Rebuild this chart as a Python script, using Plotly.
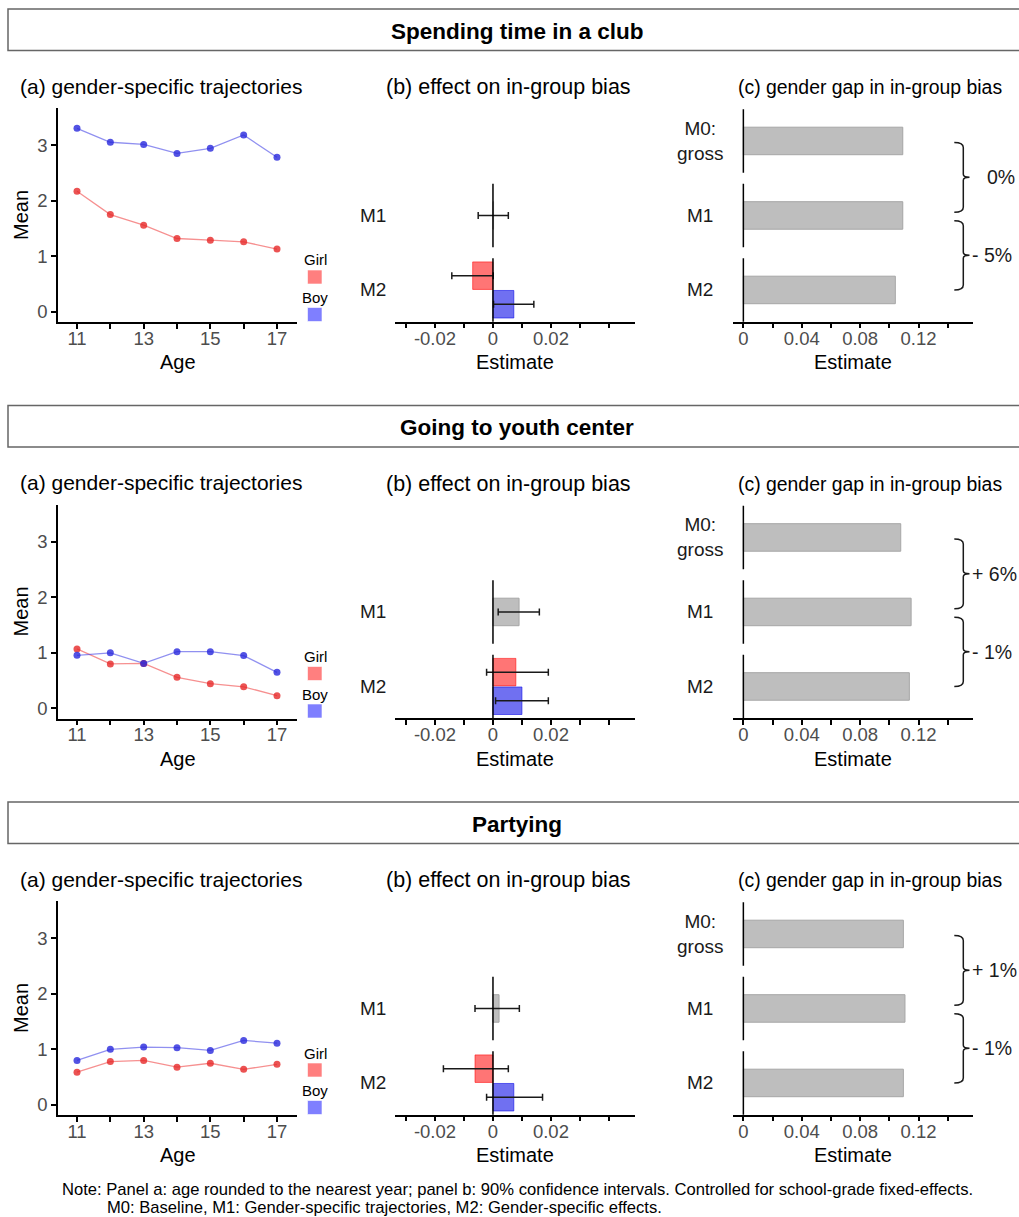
import plotly.graph_objects as go

W, H = 1019, 1217

# ---------------- data ----------------
sections = ["Spending time in a club", "Going to youth center", "Partying"]
ages = [11, 12, 13, 14, 15, 16, 17]
age_ticktext = ["11", "", "13", "", "15", "", "17"]
genders = ["Girl", "Boy"]

club_girl = [2.17, 1.75, 1.56, 1.32, 1.29, 1.26, 1.13]
club_boy = [3.30, 3.05, 3.01, 2.85, 2.94, 3.18, 2.78]
youth_girl = [1.07, 0.80, 0.81, 0.56, 0.445, 0.39, 0.23]
youth_boy = [0.955, 1.00, 0.81, 1.02, 1.02, 0.95, 0.65]
party_girl = [0.59, 0.78, 0.80, 0.68, 0.75, 0.64, 0.73]
party_boy = [0.80, 1.00, 1.04, 1.03, 0.98, 1.16, 1.11]
traj_girl = [club_girl, youth_girl, party_girl]
traj_boy = [club_boy, youth_boy, party_boy]
mean_ticks = [0, 1, 2, 3]

# panel b: effect on in-group bias (estimate, 90% CI)
m1_est = [0.0002, 0.0090, 0.0021]
m1_lo = [-0.0051, 0.0018, -0.0062]
m1_hi = [0.0053, 0.0160, 0.0091]
m2_girl_est = [-0.0070, 0.0079, -0.0062]
m2_girl_lo = [-0.0142, -0.0022, -0.0171]
m2_girl_hi = [0.0001, 0.0191, 0.0053]
m2_boy_est = [0.0072, 0.0100, 0.0072]
m2_boy_lo = [0.0002, 0.0009, -0.0022]
m2_boy_hi = [0.0141, 0.0191, 0.0171]
b_ticks = [-0.03, -0.02, -0.01, 0, 0.01, 0.02, 0.03, 0.04]
b_ticktext = ["", "-0.02", "", "0", "", "0.02", "", ""]

# panel c: gender gap in in-group bias
gap_m0 = [0.1092, 0.1078, 0.1096]
gap_m1 = [0.1092, 0.1149, 0.1107]
gap_m2 = [0.1041, 0.1137, 0.1096]
change_m0_m1 = ["0%", "+ 6%", "+ 1%"]
change_m1_m2 = ["- 5%", "- 1%", "- 1%"]
c_ticks = [0, 0.02, 0.04, 0.06, 0.08, 0.10, 0.12, 0.14]
c_ticktext = ["0", "", "0.04", "", "0.08", "", "0.12", ""]

b_facets = ["M1", "M2"]
c_facets = ["M0:<br>gross", "M1", "M2"]

note_lines = [
    "Note: Panel a: age rounded to the nearest year; panel b: 90% confidence intervals. Controlled for school-grade fixed-effects.",
    "M0: Baseline, M1: Gender-specific trajectories, M2: Gender-specific effects.",
]

# ---------------- style ----------------
FONT = "Liberation Sans, Arial, sans-serif"
TICKC = "#4d4d4d"
RED_LINE = "rgba(240,70,70,0.6)"
BLUE_LINE = "rgba(70,70,230,0.6)"
RED_PT = "rgba(230,40,40,0.8)"
BLUE_PT = "rgba(40,40,220,0.8)"
RED_BAR = "rgba(255,0,0,0.54)"
BLUE_BAR = "rgba(0,0,230,0.56)"
GREY_BAR = "#bebebe"

PITCH = 396.5


def px(x):
    return x / W


def py(y):
    return 1 - y / H


fig = go.Figure()
layout = dict(
    width=W, height=H, margin=dict(l=0, r=0, t=0, b=0),
    paper_bgcolor="white", plot_bgcolor="white", template="none",
    showlegend=False, barmode="overlay", font=dict(family=FONT, color="black"),
)
shapes, annotations = [], []


def ann(x, y, text, size, xanchor="center", color="black", bold=False, angle=0):
    if bold:
        text = "<b>" + text + "</b>"
    annotations.append(dict(x=px(x), y=py(y), xref="paper", yref="paper", text=text,
                            showarrow=False, xanchor=xanchor, yanchor="middle",
                            textangle=angle, font=dict(size=size, color=color, family=FONT)))


def axname(k):
    return "" if k == 1 else str(k)


def add_axes(k, xdom, ydom, xopts, yopts):
    layout["xaxis" + axname(k)] = dict(domain=[px(xdom[0]), px(xdom[1])], anchor="y" + axname(k),
                                       showgrid=False, zeroline=False, fixedrange=True, **xopts)
    layout["yaxis" + axname(k)] = dict(domain=[py(ydom[1]), py(ydom[0])], anchor="x" + axname(k),
                                       showgrid=False, zeroline=False, fixedrange=True, **yopts)


axis_line = dict(showline=True, linecolor="black", linewidth=1.5, ticks="outside",
                 ticklen=5, tickwidth=1.5, tickcolor="black",
                 tickfont=dict(size=18.5, color=TICKC, family=FONT))
x_extra = dict(ticklabelstandoff=-6)

FAC_H = 63.5
FAC_GAP = 11.0
BOTTOM = 321.7
fac_top = {}
for j in range(3):  # j=0 -> bottom facet
    bot = BOTTOM - j * (FAC_H + FAC_GAP)
    fac_top[j] = (bot - FAC_H, bot)

BX = (395, 635)
CX = (732.7, 973.3)
BAR_W = 0.52

for s in range(3):
    d = s * PITCH
    base = s * 6
    # header box
    shapes.append(dict(type="rect", xref="paper", yref="paper", x0=px(8), x1=px(1040),
                       y0=py(50.5 + d), y1=py(9 + d), line=dict(color="#666666", width=1.5),
                       fillcolor="white", layer="below"))
    ann(517, 31 + d, sections[s], 22.5, bold=True)
    # panel titles
    ann(18, 86 + d, "(a) gender-specific trajectories", 21, xanchor="left")
    ann(384, 87 + d, "(b) effect on in-group bias", 21.5, xanchor="left")
    ann(736, 87 + d, "(c) gender gap in in-group bias", 19.4, xanchor="left")

    # ---- panel a ----
    k = base + 1
    add_axes(k, (58, 297), (108.3 + d, 322 + d),
             dict(range=[10.43, 17.6], tickvals=ages, ticktext=age_ticktext, **axis_line, **x_extra),
             dict(range=[-0.18, 3.66], tickvals=mean_ticks, **axis_line))
    for vals, lc, pc in [(traj_girl[s], RED_LINE, RED_PT), (traj_boy[s], BLUE_LINE, BLUE_PT)]:
        fig.add_trace(go.Scatter(x=ages, y=vals, mode="lines", line=dict(color=lc, width=1.3),
                                 xaxis="x" + axname(k), yaxis="y" + axname(k), hoverinfo="skip"))
        fig.add_trace(go.Scatter(x=ages, y=vals, mode="markers", marker=dict(color=pc, size=7, line=dict(width=0)),
                                 xaxis="x" + axname(k), yaxis="y" + axname(k)))
    ann(21, 215 + d, "Mean", 20, angle=-90)
    ann(177.5, 362 + d, "Age", 20)
    # legend
    for gi, (g, col) in enumerate(zip(genders, ["rgba(255,0,0,0.5)", "rgba(0,0,255,0.5)"])):
        yy = 260 + d + gi * 37.5
        ann(315, yy, g, 15)
        shapes.append(dict(type="rect", xref="paper", yref="paper", x0=px(307.5), x1=px(322),
                           y0=py(yy + 24), y1=py(yy + 10), fillcolor=col,
                           line=dict(color="rgba(255,255,255,0.6)", width=1)))

    # ---- panel b ----
    for fi, fname in enumerate(b_facets):  # M1 top, M2 bottom
        k = base + 2 + fi
        j = 1 - fi
        top, bot = fac_top[j]
        xo = dict(range=[-0.0338, 0.049], tickvals=b_ticks, ticktext=b_ticktext, **axis_line, **x_extra) if fi == 1 \
            else dict(range=[-0.0338, 0.049], visible=False)
        add_axes(k, BX, (top + d, bot + d), xo, dict(range=[0.4, 1.6], visible=False))
        if fi == 0:
            est = [m1_est[s]]
            lo = [m1_lo[s]]
            hi = [m1_hi[s]]
            ys = [1.0]
            cols = [GREY_BAR]
            lcols = ["#a6a6a6"]
        else:
            est = [m2_girl_est[s], m2_boy_est[s]]
            lo = [m2_girl_lo[s], m2_boy_lo[s]]
            hi = [m2_girl_hi[s], m2_boy_hi[s]]
            ys = [1.27, 0.73]
            cols = [RED_BAR, BLUE_BAR]
            lcols = ["rgba(255,0,0,0.55)", "rgba(0,0,230,0.55)"]
        fig.add_trace(go.Bar(x=est, y=ys, orientation="h", width=[BAR_W] * len(est),
                             marker=dict(color=cols, line=dict(color=lcols, width=1)),
                             error_x=dict(type="data", symmetric=False,
                                          array=[h - e for h, e in zip(hi, est)],
                                          arrayminus=[e - l for e, l in zip(est, lo)],
                                          color="#1a1a1a", thickness=1.5, width=3.5),
                             xaxis="x" + axname(k), yaxis="y" + axname(k)))
        shapes.append(dict(type="line", xref="x" + axname(k), yref="y" + axname(k) + " domain",
                           x0=0, x1=0, y0=0, y1=1, line=dict(color="black", width=1.5), layer="above"))
        ann(373, (top + bot) / 2 + d, fname, 19, color="#1a1a1a")
    ann(515, 362 + d, "Estimate", 20)

    # ---- panel c ----
    gaps = [gap_m0[s], gap_m1[s], gap_m2[s]]
    centers = []
    for fi, fname in enumerate(c_facets):
        k = base + 4 + fi
        j = 2 - fi
        top, bot = fac_top[j]
        centers.append((top + bot) / 2 + d)
        xo = dict(range=[-0.0073, 0.1575], tickvals=c_ticks, ticktext=c_ticktext, **axis_line, **x_extra) if fi == 2 \
            else dict(range=[-0.0073, 0.1575], visible=False)
        add_axes(k, CX, (top + d, bot + d), xo, dict(range=[0.4, 1.6], visible=False))
        fig.add_trace(go.Bar(x=[gaps[fi]], y=[1.0], orientation="h", width=[BAR_W],
                             marker=dict(color=GREY_BAR, line=dict(color="#a6a6a6", width=1)),
                             xaxis="x" + axname(k), yaxis="y" + axname(k)))
        shapes.append(dict(type="line", xref="x" + axname(k), yref="y" + axname(k) + " domain",
                           x0=0, x1=0, y0=0, y1=1, line=dict(color="black", width=1.5), layer="above"))
        ann(700, (top + bot) / 2 + d, fname, 19, color="#1a1a1a")
    ann(853, 362 + d, "Estimate", 20)

    # brackets
    xs, xv, xt, r = 954.3, 963.3, 969.5, 5
    spans = [(centers[0] + 1.5, centers[1] - 3.3, change_m0_m1[s]),
             (centers[1] + 5.3, centers[2], change_m1_m2[s])]
    for top, bot, lab in spans:
        mid = (top + bot) / 2

        def P(x, y):
            return f"{px(x):.5f},{py(y):.5f}"
        path = (f"M{P(xs, top)} Q{P(xv, top)} {P(xv, top + r)} L{P(xv, mid - 3)} "
                f"Q{P(xv, mid)} {P(xt, mid)} Q{P(xv, mid)} {P(xv, mid + 3)} "
                f"L{P(xv, bot - r)} Q{P(xv, bot)} {P(xs, bot)}")
        shapes.append(dict(type="path", xref="paper", yref="paper", path=path,
                           line=dict(color="#1a1a1a", width=1.5)))
        lx = 985 if lab[0] not in "+-" else 970
        ann(lx, mid, lab, 19.5, xanchor="left", color="#1a1a1a")

# note
ann(60, 1189, note_lines[0], 16.6, xanchor="left")
ann(105, 1207, note_lines[1], 16.6, xanchor="left")

layout["shapes"] = shapes
layout["annotations"] = annotations
fig.update_layout(**layout)
fig.write_html("out.html", config={"displayModeBar": False},
               post_script="document.body.style.margin='0px';")
